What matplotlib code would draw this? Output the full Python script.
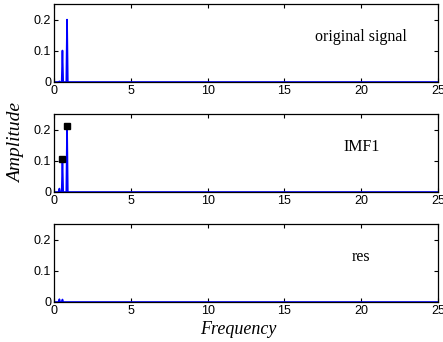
import matplotlib
matplotlib.use("Agg")
import matplotlib.pyplot as plt

# dados do espectro (frequencia x amplitude)
freq = [0, 0.30, 0.35, 0.40, 0.50, 0.55, 0.60, 0.80, 0.85, 0.90, 25]
amp_original = [0, 0, 0.002, 0, 0, 0.101, 0, 0, 0.200, 0, 0]
amp_imf1 = [0, 0, 0.011, 0, 0, 0.105, 0, 0, 0.210, 0, 0]
amp_res = [0, 0, 0.009, 0, 0, 0.008, 0, 0, 0, 0, 0]

imf1_pico_f = [0.55, 0.85]
imf1_pico_a = [0.105, 0.210]

rotulos = ["original signal", "IMF1", "res"]
series = [amp_original, amp_imf1, amp_res]

xticks = [0, 5, 10, 15, 20, 25]
yticks = [0, 0.1, 0.2]

W, H = 443, 342
fig = plt.figure(figsize=(W / 100, H / 100), dpi=100)

esq, dir_ = 54, 438
topos = [4, 114, 224]
altura = 78

for i, (rot, amp) in enumerate(zip(rotulos, series)):
    ax = fig.add_axes([esq / W, 1 - (topos[i] + altura) / H,
                       (dir_ - esq) / W, altura / H])
    ax.plot(freq, amp, color="blue", lw=1.2)
    if i == 1:
        ax.plot(imf1_pico_f, imf1_pico_a, "s", color="black", ms=4)
    ax.set_xlim(0, 25)
    ax.set_ylim(0, 0.25)
    ax.set_xticks(xticks)
    ax.set_yticks(yticks)
    ax.set_yticklabels(["0", "0.1", "0.2"])
    ax.tick_params(direction="in", top=True, right=True, length=3,
                   width=0.8, labelsize=9, pad=2)
    for lab in ax.get_xticklabels() + ax.get_yticklabels():
        lab.set_family("Liberation Sans")
    for sp in ax.spines.values():
        sp.set_linewidth(0.9)
    ax.text(20, 0.145, rot, ha="center", va="center",
            family="Liberation Serif", fontsize=11.5)

fig.text(17 / W, 1 - 143 / H, "Amplitude", rotation=90, ha="center",
         va="center", family="Liberation Serif", style="italic", fontsize=14)
fig.text(238 / W, 1 - 329 / H, "Frequency", ha="center", va="center",
         family="Liberation Serif", style="italic", fontsize=13)

fig.savefig("out.png", dpi=100)
